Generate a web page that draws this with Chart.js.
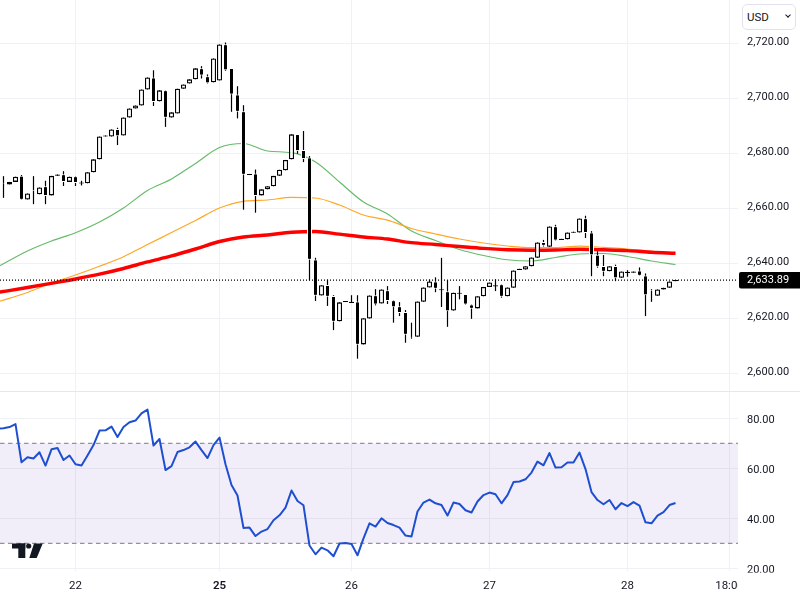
<!DOCTYPE html>
<html>
<head>
<meta charset="utf-8">
<title>Chart</title>
<script src="https://cdn.jsdelivr.net/npm/chart.js@4/dist/chart.umd.min.js"></script>
<style>
    html, body { margin: 0; padding: 0; background: #fff; }
    #wrap { position: relative; width: 800px; height: 600px; overflow: hidden; }
    canvas { display: block; }
    #currency {
        position: absolute; left: 742px; top: 4px; width: 52px; height: 24px;
        border: 1px solid #e4e0f0; border-radius: 5px; background: #fff;
        font: 11.5px Roboto, sans-serif; color: #131722; line-height: 24px; text-indent: 4px;
    }
    #currency i {
        position: absolute; left: 43px; top: 8px; width: 3px; height: 3px;
        border-right: 1px solid #131722; border-bottom: 1px solid #131722; transform: rotate(45deg);
    }
</style>
</head>
<body>
<div id="wrap">
    <canvas id="chart" width="800" height="600"></canvas>
    <div id="currency">USD<i></i></div>
</div>
<script>
// candles, one per session bar
const opens = [
    2669.3, 2668.7, 2669.6, 2671.8, 2663.2, 2666.7, 2665.1, 2668.0, 2664.7, 2671.8,
    2672.4, 2669.6, 2671.7, 2669.0, 2669.1, 2673.1, 2677.8, 2686.1, 2686.1, 2688.8,
    2686.5, 2693.0, 2696.3, 2697.4, 2703.2, 2707.6, 2698.9, 2702.9, 2693.0, 2694.5,
    2703.5, 2705.4, 2706.9, 2710.9, 2708.0, 2705.8, 2706.5, 2719.7, 2711.0, 2701.4,
    2695.3, 2672.1, 2672.7, 2664.7, 2666.9, 2668.0, 2671.8, 2673.8, 2677.8, 2687.0,
    2681.2, 2678.5, 2641.4, 2628.3, 2632.1, 2628.1, 2618.9, 2625.9, 2625.6, 2626.1,
    2610.5, 2619.9, 2628.4, 2625.4, 2630.2, 2626.6, 2624.4, 2622.3, 2613.3, 2613.3,
    2626.0, 2631.2, 2633.4, 2630.2, 2629.8, 2622.8, 2628.9, 2628.8, 2625.0, 2623.6,
    2628.0, 2631.4, 2631.6, 2632.4, 2628.0, 2631.1, 2637.6, 2637.7, 2638.9, 2642.0,
    2647.7, 2646.0, 2653.5, 2648.5, 2648.7, 2651.1, 2651.2, 2656.4, 2651.2, 2643.1,
    2639.0, 2637.1, 2639.0, 2634.7, 2636.5, 2636.6, 2637.4, 2635.6, 2630.3, 2628.2,
    2630.5, 2631.1, 2633.5
];
const highs = [
    2671.7, 2669.6, 2671.5, 2672.1, 2665.4, 2671.7, 2667.6, 2670.0, 2671.8, 2672.3,
    2673.5, 2671.5, 2671.7, 2670.0, 2673.1, 2677.8, 2686.1, 2686.5, 2688.7, 2689.3,
    2693.0, 2696.3, 2697.4, 2703.2, 2707.6, 2710.2, 2702.9, 2702.9, 2694.9, 2703.5,
    2705.0, 2706.9, 2710.9, 2711.7, 2708.7, 2714.5, 2719.6, 2720.3, 2711.0, 2704.4,
    2697.5, 2672.5, 2674.1, 2666.9, 2668.0, 2671.8, 2674.0, 2677.6, 2686.9, 2687.0,
    2688.1, 2679.0, 2642.0, 2632.0, 2634.1, 2628.4, 2625.8, 2626.3, 2628.4, 2628.4,
    2620.0, 2628.3, 2630.6, 2630.5, 2631.7, 2626.6, 2625.9, 2623.0, 2618.4, 2626.1,
    2631.2, 2634.1, 2634.9, 2642.0, 2633.9, 2629.3, 2631.7, 2628.8, 2625.0, 2628.0,
    2631.4, 2633.0, 2634.2, 2632.4, 2631.2, 2637.4, 2638.0, 2638.9, 2642.1, 2647.6,
    2648.5, 2653.4, 2654.0, 2648.9, 2651.2, 2651.5, 2656.3, 2657.3, 2651.7, 2644.4,
    2643.0, 2638.9, 2639.5, 2637.0, 2637.5, 2637.0, 2638.5, 2636.3, 2630.6, 2630.5,
    2631.1, 2633.4, 2633.9
];
const lows = [
    2663.8, 2668.7, 2669.6, 2663.1, 2663.2, 2661.5, 2665.1, 2661.5, 2664.7, 2671.8,
    2668.1, 2669.6, 2668.1, 2668.3, 2669.1, 2673.1, 2677.8, 2686.1, 2686.1, 2683.0,
    2686.5, 2693.0, 2696.3, 2697.4, 2703.2, 2697.2, 2698.9, 2689.6, 2693.0, 2694.5,
    2703.5, 2705.4, 2706.9, 2707.2, 2705.4, 2705.8, 2706.5, 2710.0, 2695.1, 2692.7,
    2659.5, 2672.1, 2658.4, 2664.7, 2666.9, 2668.0, 2671.8, 2673.8, 2677.8, 2679.8,
    2676.8, 2633.8, 2626.3, 2628.3, 2624.5, 2615.7, 2618.9, 2625.9, 2625.6, 2605.3,
    2610.5, 2619.9, 2624.7, 2625.4, 2625.2, 2618.4, 2620.8, 2611.1, 2612.6, 2613.3,
    2626.0, 2631.2, 2629.5, 2624.1, 2616.9, 2622.8, 2626.9, 2625.0, 2619.8, 2623.6,
    2628.0, 2631.4, 2629.9, 2627.5, 2628.0, 2631.1, 2637.6, 2637.7, 2638.9, 2642.0,
    2646.1, 2646.0, 2648.3, 2648.5, 2648.7, 2651.1, 2651.2, 2649.2, 2635.3, 2638.4,
    2635.3, 2637.1, 2633.5, 2634.7, 2635.1, 2636.6, 2635.5, 2620.8, 2626.0, 2628.2,
    2630.5, 2631.1, 2633.5
];
const closes = [
    2669.0, 2669.6, 2671.5, 2663.1, 2665.4, 2666.4, 2667.6, 2664.5, 2671.8, 2672.3,
    2669.6, 2671.5, 2669.2, 2669.4, 2673.1, 2677.8, 2686.1, 2686.5, 2688.7, 2686.2,
    2693.0, 2696.3, 2697.4, 2703.2, 2707.6, 2698.7, 2702.9, 2692.9, 2694.9, 2703.5,
    2705.0, 2706.9, 2710.9, 2708.3, 2705.5, 2714.5, 2719.6, 2710.2, 2701.4, 2695.1,
    2672.2, 2672.5, 2664.5, 2666.9, 2668.0, 2671.8, 2674.0, 2677.6, 2686.9, 2680.8,
    2677.9, 2641.3, 2628.2, 2632.0, 2627.8, 2618.7, 2625.8, 2626.3, 2626.0, 2610.4,
    2620.0, 2628.3, 2625.0, 2630.5, 2626.3, 2624.0, 2621.9, 2614.0, 2613.0, 2626.1,
    2631.2, 2633.4, 2630.7, 2630.6, 2622.6, 2629.3, 2629.3, 2625.0, 2623.5, 2628.0,
    2631.4, 2633.0, 2632.0, 2627.8, 2631.2, 2637.4, 2638.0, 2638.9, 2642.1, 2647.6,
    2646.4, 2653.4, 2648.3, 2648.9, 2651.2, 2651.5, 2656.3, 2651.0, 2642.9, 2638.7,
    2636.9, 2638.9, 2634.6, 2637.0, 2636.9, 2637.0, 2635.5, 2628.4, 2630.0, 2630.5,
    2631.1, 2633.4, 2633.89
];

// moving averages, read every fourth bar
const maBars = [
    -1, 4, 8, 12, 16, 20, 24, 28, 32, 36, 40, 44, 48, 52, 56,
    60, 64, 68, 72, 76, 80, 84, 88, 92, 96, 100, 104, 108, 112
];
const maFast = [
    2638.66, 2644.48, 2648.11, 2651.13, 2655.02, 2660.11, 2666.48, 2670.66, 2676.30, 2682.11,
    2683.57, 2680.84, 2680.22, 2676.84, 2669.57, 2662.30, 2657.93, 2651.75, 2648.29, 2645.02,
    2642.84, 2641.28, 2640.84, 2642.11, 2643.39, 2643.57, 2642.48, 2640.84, 2639.57
];
const maMid = [
    2625.93, 2629.39, 2632.84, 2635.75, 2638.91, 2642.40, 2646.84, 2651.17, 2655.57, 2660.11,
    2662.55, 2663.02, 2664.00, 2663.75, 2661.20, 2657.57, 2655.68, 2652.66, 2650.66, 2648.84,
    2647.39, 2646.30, 2645.68, 2645.68, 2646.22, 2645.79, 2645.20, 2644.37, 2643.75
];
const maSlow = [
    2629.39, 2631.20, 2632.73, 2634.30, 2636.04, 2638.11, 2640.48, 2642.66, 2645.20, 2647.93,
    2649.57, 2650.30, 2651.28, 2651.57, 2650.59, 2649.57, 2648.84, 2647.50, 2646.84, 2646.11,
    2645.42, 2644.95, 2644.77, 2644.84, 2645.13, 2644.91, 2644.62, 2644.04, 2643.64
];

// rsi at the bar just left of the window, then one value per candle
const rsiLeadIn = 75.9;
const rsiValues = [
    76.0, 76.5, 77.7, 62.4, 64.4, 63.9, 66.4, 61.1, 67.6, 68.1,
    63.3, 65.1, 61.6, 61.1, 65.1, 69.3, 75.1, 75.2, 76.7, 72.5,
    76.5, 78.4, 79.1, 82.0, 83.5, 69.1, 71.7, 59.3, 60.9, 66.5,
    67.3, 68.4, 70.7, 67.3, 64.1, 69.3, 72.3, 61.6, 53.3, 49.1,
    36.1, 36.3, 32.9, 34.7, 35.7, 39.2, 41.2, 44.3, 51.1, 46.9,
    45.2, 29.1, 25.6, 28.3, 27.2, 24.8, 29.9, 30.1, 29.7, 25.2,
    32.0, 38.0, 36.7, 40.0, 38.1, 37.3, 36.3, 33.1, 32.7, 42.7,
    46.3, 47.5, 46.0, 45.3, 41.1, 46.3, 45.7, 43.2, 42.3, 46.7,
    49.3, 50.3, 49.6, 46.0, 49.3, 54.5, 54.7, 55.6, 58.3, 62.7,
    61.2, 66.1, 60.3, 60.4, 62.3, 62.3, 66.3, 59.7, 50.5, 47.3,
    45.6, 47.3, 43.6, 46.1, 44.9, 46.5, 45.1, 38.4, 38.0, 41.1,
    42.5, 45.3, 46.1
];
const rsiUpper = 70;
const rsiLower = 30;

const priceTicks = [2600, 2620, 2640, 2660, 2680, 2700, 2720];
const rsiTicks = [20, 40, 60, 80];
const xTickBars = [12, 36, 58, 81, 104, 121];
const xTickLabels = ['22', '25', '26', '27', '28', '18:00'];
const boldTickLabel = '25';
const lastPrice = closes[closes.length - 1];
const lastPriceLabel = '2,633.89';

const xMin = -0.5833;
const xMax = 122.4167;
const FONT = 'Roboto, sans-serif';
const TEXT = '#131722';
const GRID = '#f0f1f4';

const bars = closes.map((_, i) => i);
const isUp = closes.map((c, i) => c >= opens[i]);

function fmtPrice(v) {
    return v.toLocaleString('en-US', { minimumFractionDigits: 2, maximumFractionDigits: 2 });
}

// Chart.js reserves room for half of the end labels, the panes here run edge to edge
function noEndPadding(scale) {
    scale.paddingTop = 0;
    scale.paddingBottom = 0;
    scale.width = 62;
}

const paneChrome = {
    id: 'paneChrome',
    afterDraw(chart) {
        const c = chart.ctx;
        const y = chart.scales.price.getPixelForValue(lastPrice);
        c.save();
        // x labels and the last rsi label are cut where the panes end
        c.fillStyle = '#fff';
        c.fillRect(738, 572.7, 62, 28);
        // pane separator
        c.fillStyle = '#e6e7ea';
        c.fillRect(0, 391, 800, 1);
        // last price tag
        c.fillStyle = '#000';
        c.beginPath();
        c.roundRect(739, y - 8, 61, 16.5, [2, 0, 0, 2]);
        c.fill();
        c.fillStyle = '#fff';
        c.font = '11px ' + FONT;
        c.textBaseline = 'middle';
        c.fillText(lastPriceLabel, 747, y + 0.5);
        // tradingview mark
        c.fillStyle = TEXT;
        c.fillRect(12, 543.5, 13.3, 5);
        c.fillRect(18.3, 543.5, 7, 14.5);
        c.beginPath();
        c.arc(28.7, 546, 2.6, 0, Math.PI * 2);
        c.fill();
        c.beginPath();
        c.moveTo(34, 543.5);
        c.lineTo(42.7, 543.5);
        c.lineTo(36.7, 558);
        c.lineTo(29.3, 558);
        c.closePath();
        c.fill();
        c.restore();
    }
};

const priceData = (values) => values.map((v, i) => ({ x: maBars[i], y: v }));
const maStyle = (color, width, order) => ({
    type: 'line', yAxisID: 'price', borderColor: color, borderWidth: width, pointRadius: 0,
    cubicInterpolationMode: 'monotone', order
});

new Chart(document.getElementById('chart'), {
    type: 'bar',
    data: {
        datasets: [
            {
                // candle bodies, white edge on the black ones keeps them off their wicks
                yAxisID: 'price', order: 1, grouped: false, barThickness: 5,
                data: bars.map(i => ({ x: i, y: [opens[i], closes[i]] })),
                backgroundColor: isUp.map(up => up ? '#fff' : '#000'),
                borderColor: isUp.map(up => up ? '#000' : '#fff'),
                borderWidth: isUp.map(up => up ? 1.3 : 1), borderSkipped: false, inflateAmount: 0
            },
            {
                yAxisID: 'price', order: 2, grouped: false, barThickness: 1.2,
                data: bars.map(i => ({ x: i, y: [lows[i], highs[i]] })),
                backgroundColor: '#000', borderWidth: 0, inflateAmount: 0
            },
            {
                type: 'line', yAxisID: 'price', order: 0, pointRadius: 0,
                data: [{ x: xMin, y: lastPrice }, { x: 122.1, y: lastPrice }],
                borderColor: '#000', borderWidth: 1.2, borderDash: [1, 2]
            },
            Object.assign(maStyle('#ff0000', 3.4, 3), { data: priceData(maSlow) }),
            Object.assign(maStyle('#ffa726', 1.2, 4), { data: priceData(maMid) }),
            Object.assign(maStyle('#66bb6a', 1.2, 5), { data: priceData(maFast) }),
            {
                type: 'line', yAxisID: 'rsi', order: 6, pointRadius: 0, borderWidth: 2,
                borderColor: '#1f4fd1', borderJoinStyle: 'round',
                data: [{ x: -1, y: rsiLeadIn }].concat(bars.map(i => ({ x: i, y: rsiValues[i] })))
            },
            {
                type: 'line', yAxisID: 'rsi', order: 7, pointRadius: 0, borderWidth: 1,
                borderColor: '#787b86', borderDash: [4.5, 3.5],
                backgroundColor: 'rgba(126, 87, 194, 0.1)', fill: '+1',
                data: [{ x: xMin, y: rsiUpper }, { x: xMax, y: rsiUpper }]
            },
            {
                type: 'line', yAxisID: 'rsi', order: 8, pointRadius: 0, borderWidth: 1,
                borderColor: '#787b86', borderDash: [4.5, 3.5],
                data: [{ x: xMin, y: rsiLower }, { x: xMax, y: rsiLower }]
            }
        ]
    },
    options: {
        responsive: false,
        animation: false,
        layout: { padding: 0 },
        plugins: { legend: { display: false }, tooltip: { enabled: false } },
        scales: {
            x: {
                type: 'linear', min: xMin, max: xMax, offset: false,
                grid: { color: GRID, drawTicks: false, offset: false },
                border: { display: false },
                afterBuildTicks: (scale) => { scale.ticks = xTickBars.map(v => ({ value: v })); },
                afterFit: (scale) => { scale.height = 29; scale.paddingLeft = 0; scale.paddingRight = 0; },
                ticks: {
                    autoSkip: false, maxRotation: 0, padding: 8, color: TEXT,
                    font: (ctx) => ({
                        family: FONT, size: 11.5,
                        weight: xTickLabels[ctx.index] === boldTickLabel ? '600' : '400'
                    }),
                    callback: (v) => xTickLabels[xTickBars.indexOf(v)]
                }
            },
            price: {
                type: 'linear', position: 'right', stack: 'panes', stackWeight: 391,
                min: 2593.56, max: 2735.75,
                grid: { color: GRID, drawTicks: false },
                border: { display: false },
                afterBuildTicks: (scale) => { scale.ticks = priceTicks.map(v => ({ value: v })); },
                afterFit: noEndPadding,
                ticks: {
                    padding: 9, color: TEXT, labelOffset: -1,
                    font: { family: FONT, size: 11 },
                    callback: fmtPrice
                }
            },
            rsi: {
                type: 'linear', position: 'right', stack: 'panes', stackWeight: 180,
                min: 18.92, max: 90.92,
                grid: { color: GRID, drawTicks: false },
                border: { display: false },
                afterBuildTicks: (scale) => { scale.ticks = rsiTicks.map(v => ({ value: v })); },
                afterFit: noEndPadding,
                ticks: {
                    padding: 9, color: TEXT, labelOffset: 1.5,
                    font: { family: FONT, size: 11 },
                    callback: (v) => v.toFixed(2)
                }
            }
        }
    },
    plugins: [paneChrome]
});
</script>
</body>
</html>
